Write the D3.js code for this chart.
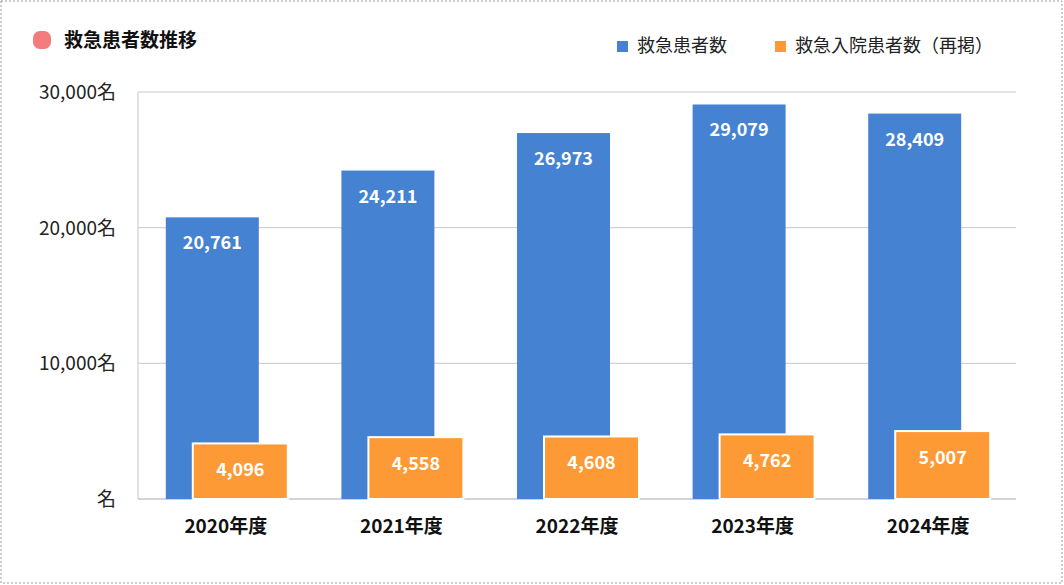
<!DOCTYPE html>
<html><head><meta charset="utf-8">
<script src="https://cdn.jsdelivr.net/npm/d3@7"></script>
<style>body{margin:0;background:#fff;font-family:"Noto Sans CJK JP","Noto Sans",sans-serif}</style>
</head><body><svg id="c" width="1064" height="585"></svg>
<script>
const categories=["2020年度","2021年度","2022年度","2023年度","2024年度"];
const emergency=[20761,24211,26973,29079,28409];
const admitted=[4096,4558,4608,4762,5007];
const yTicks=[0,10000,20000,30000];
const seriesNames=["救急患者数","救急入院患者数（再掲）"];
const colors=["#4682d2","#fd9a35"];

const svg=d3.select("#c");
svg.append("rect").attr("x",1).attr("y",1).attr("width",1061).attr("height",582)
 .attr("fill","none").attr("stroke","#999").attr("stroke-dasharray","2,2");
const L=138,R=1016,T=92,B=499;
const x=d3.scaleBand().domain(categories).range([L,R]);
const y=d3.scaleLinear().domain([0,30000]).range([B,T]);
const g=svg.append("g");
yTicks.forEach(t=>{
 g.append("line").attr("x1",L).attr("x2",R).attr("y1",y(t)).attr("y2",y(t))
  .attr("stroke",t===0?"#aaa":"#c8c8c8");
 g.append("text").attr("x",116).attr("y",y(t)+7).attr("text-anchor","end")
  .attr("font-size",19).attr("fill","#222").text(t===0?"名":d3.format(",")(t)+"名");
});
g.append("line").attr("x1",L).attr("x2",L).attr("y1",T).attr("y2",B).attr("stroke","#c8c8c8");
const fmt=d3.format(",");
categories.forEach((c,i)=>{
 const cx=x(c)+x.bandwidth()/2;
 const bx=cx-60;
 g.append("rect").attr("x",bx).attr("y",y(emergency[i])).attr("width",93).attr("height",B-y(emergency[i])).attr("fill",colors[0]);
 g.append("text").attr("x",bx+46.5).attr("y",y(emergency[i])+32).attr("text-anchor","middle")
  .attr("fill","#fff").attr("font-weight","bold").attr("font-size",18).text(fmt(emergency[i]));
 const ox=cx-33;
 g.append("rect").attr("x",ox).attr("y",y(admitted[i])).attr("width",95).attr("height",B-y(admitted[i])).attr("fill",colors[1])
  .attr("stroke","#fff").attr("stroke-width",2);
 g.append("text").attr("x",ox+47.5).attr("y",y(admitted[i])+33).attr("text-anchor","middle")
  .attr("fill","#fff").attr("font-weight","bold").attr("font-size",18).text(fmt(admitted[i]));
 g.append("text").attr("x",cx).attr("y",533).attr("text-anchor","middle").attr("font-weight","bold")
  .attr("font-size",19).attr("fill","#111").text(c);
});
// title
svg.append("rect").attr("x",33).attr("y",31).attr("width",18).attr("height",18).attr("rx",7).attr("fill","#f27c7c");
svg.append("text").attr("x",64).attr("y",47).attr("font-size",19).attr("font-weight","bold").attr("fill","#111").text("救急患者数推移");
// legend
const lx=[617,775];
seriesNames.forEach((n,i)=>{
 svg.append("rect").attr("x",lx[i]).attr("y",41).attr("width",11).attr("height",11).attr("fill",colors[i]);
 svg.append("text").attr("x",lx[i]+20).attr("y",52).attr("font-size",18).attr("fill","#222").text(n);
});
</script></body></html>
